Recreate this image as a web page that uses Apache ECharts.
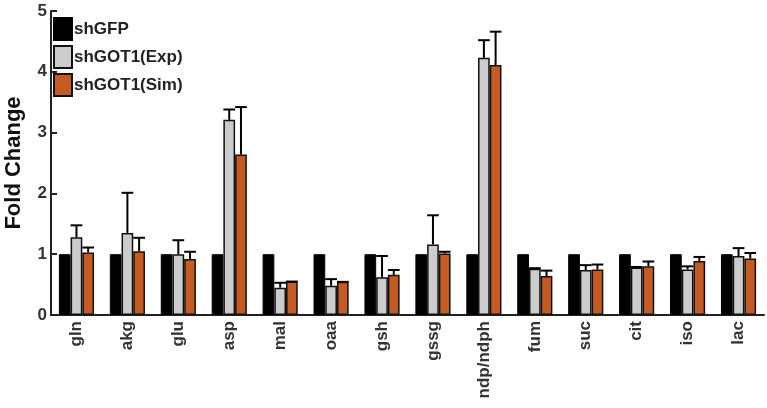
<!DOCTYPE html>
<html><head><meta charset="utf-8">
<script src="https://cdn.jsdelivr.net/npm/echarts@6/dist/echarts.min.js"></script>
<style>html,body{margin:0;padding:0;background:#fff}#c{width:767px;height:408px}</style>
</head><body><div id="c"></div>
<script>
var categories = ['gln','akg','glu','asp','mal','oaa','gsh','gssg','ndp/ndph','fum','suc','cit','iso','lac'];
var shGFP      = [1,1,1,1,1,1,1,1,1,1,1,1,1,1];
var expMean    = [1.28,1.35,1.00,3.21,0.45,0.48,0.62,1.16,4.23,0.76,0.74,0.78,0.75,0.97];
var expUpper   = [1.475,2.01,1.23,3.38,0.53,0.59,0.97,1.64,4.52,0.77,0.82,0.79,0.80,1.10];
var simMean    = [1.03,1.05,0.92,2.64,0.55,0.545,0.66,1.01,4.11,0.64,0.75,0.80,0.89,0.93];
var simUpper   = [1.11,1.27,1.04,3.42,0.55,0.545,0.74,1.04,4.66,0.73,0.83,0.88,0.955,1.02];
var yTicks     = [0,1,2,3,4,5];

var GAP = 0.31;
function errData(mean, upper){ return categories.map(function(c,i){ return [i, mean[i], upper[i]]; }); }
function errSeries(mean, upper, slot){
  return {
    type:'custom', silent:true, z:5,
    data: errData(mean, upper),
    renderItem: function(params, api){
      var i = api.value(0);
      var p0 = api.coord([i, api.value(1)]);
      var p1 = api.coord([i, api.value(2)]);
      var band = api.size([1,0])[0];
      var bw = band*(1-GAP)/3;
      var x = p0[0] + slot*bw;
      var half = bw/2;
      var st = {stroke:'#000', lineWidth:2};
      return {type:'group', children:[
        {type:'line', shape:{x1:x,y1:p0[1],x2:x,y2:p1[1]}, style:st},
        {type:'line', shape:{x1:x-half,y1:p1[1],x2:x+half,y2:p1[1]}, style:st}
      ]};
    }
  };
}
var chart = echarts.init(document.getElementById('c'));
var lblFont = {fontFamily:'Liberation Sans, Arial, sans-serif', fontWeight:'bold'};
chart.setOption({
  animation:false,
  grid:{left:51, right:3, top:11, bottom:93, containLabel:false, outerBoundsMode:'none'},
  legend:{
    data:['shGFP','shGOT1(Exp)','shGOT1(Sim)'],
    icon:'rect',
    orient:'vertical', left:53, top:17, padding:0, itemWidth:18, itemHeight:22, itemGap:4,
    textStyle:Object.assign({fontSize:17, color:'#222', padding:[0,0,0,-3]}, lblFont)
  },
  xAxis:{
    type:'category', data:categories,
    axisLine:{lineStyle:{color:'#222', width:2}},
    axisTick:{show:false},
    axisLabel:Object.assign({rotate:90, fontSize:17, color:'#333', margin:6}, lblFont)
  },
  yAxis:{
    type:'value', min:yTicks[0], max:yTicks[yTicks.length-1], interval:1,
    name:'Fold Change', nameLocation:'middle', nameGap:26,
    nameTextStyle:Object.assign({fontSize:22, color:'#111'}, lblFont),
    axisLine:{show:true, lineStyle:{color:'#222', width:2}},
    axisTick:{show:true, inside:true, length:6, lineStyle:{color:'#222', width:2}},
    axisLabel:Object.assign({fontSize:17, color:'#333', margin:4}, lblFont),
    splitLine:{show:false}
  },
  series:[
    {name:'shGFP', type:'bar', data:shGFP, barGap:'0%', barCategoryGap:(GAP*100)+'%',
     itemStyle:{color:'#000', borderColor:'#000', borderWidth:1}},
    {name:'shGOT1(Exp)', type:'bar', data:expMean, barGap:'0%', barCategoryGap:(GAP*100)+'%',
     itemStyle:{color:'#cccccc', borderColor:'#111', borderWidth:1.5}},
    {name:'shGOT1(Sim)', type:'bar', data:simMean, barGap:'0%', barCategoryGap:(GAP*100)+'%',
     itemStyle:{color:'#c55a22', borderColor:'#111', borderWidth:1.5}},
    errSeries(expMean, expUpper, 0),
    errSeries(simMean, simUpper, 1)
  ]
});
</script></body></html>
